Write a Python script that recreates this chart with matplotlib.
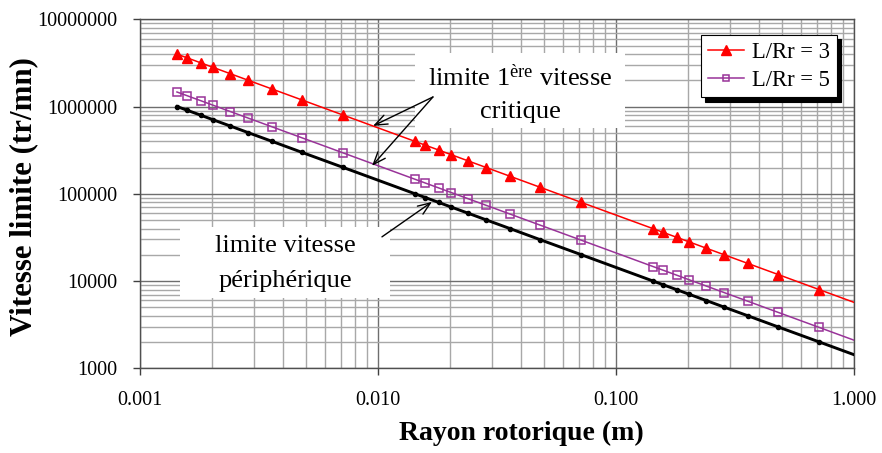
import matplotlib
matplotlib.use("Agg")
import matplotlib.pyplot as plt
from matplotlib.ticker import LogLocator, NullFormatter, FuncFormatter
from matplotlib.patches import Rectangle

plt.rcParams['font.family'] = ['Liberation Serif', 'DejaVu Serif']
plt.rcParams['mathtext.fontset'] = 'custom'
plt.rcParams['mathtext.rm'] = 'Liberation Serif'
plt.rcParams['mathtext.it'] = 'Liberation Serif:italic'
plt.rcParams['mathtext.bf'] = 'Liberation Serif:bold'

# ---- data ----
rayon = [0.00143, 0.00158, 0.0018, 0.00203, 0.0024, 0.00285, 0.00358, 0.0048, 0.00715,
         0.0143, 0.0158, 0.018, 0.0203, 0.024, 0.0285, 0.0358, 0.048, 0.0715,
         0.143, 0.158, 0.18, 0.203, 0.24, 0.285, 0.358, 0.48, 0.715]
v_lr3 = [3990000, 3610000, 3170000, 2810000, 2375000, 2000000, 1592000, 1188000, 797000,
         399000, 361000, 317000, 281000, 237500, 200000, 159200, 118800, 79700,
         39900, 36100, 31700, 28100, 23750, 20000, 15920, 11880, 7970]
v_lr5 = [1468000, 1329000, 1167000, 1034000, 875000, 737000, 587000, 437500, 293700,
         146800, 132900, 116700, 103400, 87500, 73700, 58700, 43750, 29370,
         14680, 13290, 11670, 10340, 8750, 7370, 5870, 4375, 2937]
v_periph = [1001000, 906000, 796000, 705000, 597000, 502000, 400000, 298000, 200300,
            100100, 90600, 79600, 70500, 59700, 50200, 40000, 29800, 20030,
            10010, 9060, 7960, 7050, 5970, 5020, 4000, 2980, 2003]
# trend extension to the right edge
trend_x = [0.715, 1.0]
trend_lr3 = [7970, 5700]
trend_lr5 = [2937, 2100]
trend_periph = [2003, 1432]

x_ticks = [0.001, 0.01, 0.1, 1.0]
y_ticks = [1000, 10000, 100000, 1000000, 10000000]

red = '#ff0000'
purple = '#993399'

fig = plt.figure(figsize=(8.82, 4.53), dpi=100)
W, H = 882, 453
ax = fig.add_axes([140 / W, 1 - 368.3 / H, 714 / W, 349 / H])
ax.set_xscale('log')
ax.set_yscale('log')
ax.set_xlim(0.001, 1.0)
ax.set_ylim(1000, 10000000)

ax.plot(rayon + trend_x[1:], v_lr3 + trend_lr3[1:], color=red, lw=1.1, zorder=3)
ax.plot(rayon, v_lr3, ls='none', marker='^', ms=7, color=red, zorder=4)
ax.plot(rayon + trend_x[1:], v_lr5 + trend_lr5[1:], color=purple, lw=1.1, zorder=3)
ax.plot(rayon, v_lr5, ls='none', marker='s', ms=5.5, mfc='none', mec=purple, mew=1.1, zorder=4)
ax.plot(rayon + trend_x[1:], v_periph + trend_periph[1:], color='black', lw=2.1, zorder=3)
ax.plot(rayon, v_periph, ls='none', marker='o', ms=3, color='black', zorder=4)

# legend proxies
h3, = ax.plot([], [], color=red, lw=1.1, marker='^', ms=6.5)
h5, = ax.plot([], [], color=purple, lw=1.1, marker='s', ms=5, mfc='none', mec=purple, mew=1.1)
leg = ax.legend([h3, h5], ['L/Rr = 3', 'L/Rr = 5'], loc='upper right',
                bbox_to_anchor=(0.976, 0.955), borderaxespad=0, fontsize=16.3,
                frameon=True, fancybox=False, edgecolor='black', framealpha=1,
                shadow={'color': 'black', 'alpha': 1, 'ox': 3, 'oy': -3},
                handlelength=1.6, handletextpad=0.35, borderpad=0.3, labelspacing=0.3)
leg.get_frame().set_linewidth(0.8)
leg.set_zorder(10)

# ticks and grid
ax.xaxis.set_minor_locator(LogLocator(base=10, subs=range(2, 10), numticks=20))
ax.yaxis.set_minor_locator(LogLocator(base=10, subs=range(2, 10), numticks=20))
ax.set_xticks(x_ticks)
ax.set_yticks(y_ticks)
ax.xaxis.set_major_formatter(FuncFormatter(lambda v, p: f'{v:.3f}'))
ax.yaxis.set_major_formatter(FuncFormatter(lambda v, p: f'{int(round(v))}'))
ax.xaxis.set_minor_formatter(NullFormatter())
ax.yaxis.set_minor_formatter(NullFormatter())
ax.tick_params(which='major', direction='out', length=5, width=1, color='#404040',
               labelsize=14.5, pad=11)
ax.tick_params(which='minor', length=0)
ax.grid(which='major', color='#6e6e6e', lw=1.0)
ax.grid(which='minor', color='#a8a8a8', lw=1.0)
ax.set_axisbelow(True)
for s in ax.spines.values():
    s.set_color('#505050')
    s.set_linewidth(1.0)

fig.text(521 / W, 1 - 433 / H, 'Rayon rotorique (m)', fontsize=20, fontweight='bold',
         ha='center', va='center')
fig.text(24 / W, 1 - 197 / H, 'Vitesse limite (tr/mn)', rotation=90, fontsize=22.2,
         fontweight='bold', ha='center', va='center')

# white text boxes (cover the grid)
for (x0, y0, x1, y1) in [(415, 53, 625, 128), (180, 227, 390, 298)]:
    ax.add_patch(Rectangle((x0 / W, 1 - y1 / H), (x1 - x0) / W, (y1 - y0) / H,
                           transform=fig.transFigure, facecolor='white',
                           edgecolor='none', zorder=2.5, clip_on=False))

ax.text(520 / W, 1 - 78 / H, 'limite 1$^{\\mathrm{ère}}$ vitesse', transform=fig.transFigure,
        fontsize=19, ha='center', va='center', zorder=5)
ax.text(520 / W, 1 - 112 / H, 'critique', transform=fig.transFigure,
        fontsize=19, ha='center', va='center', zorder=5)
ax.text(285 / W, 1 - 246 / H, 'limite vitesse', transform=fig.transFigure,
        fontsize=19, ha='center', va='center', zorder=5)
ax.text(285 / W, 1 - 281 / H, 'périphérique', transform=fig.transFigure,
        fontsize=19, ha='center', va='center', zorder=5)

arrow = dict(arrowstyle='->,head_length=0.9,head_width=0.35', color='black', lw=1.0,
             shrinkA=0, shrinkB=0)
ax.annotate('', xy=(0.00953, 600000), xytext=(0.01702, 1288000), arrowprops=arrow, zorder=6)
ax.annotate('', xy=(0.00944, 209000), xytext=(0.01702, 1288000), arrowprops=arrow, zorder=6)
ax.annotate('', xy=(0.01686, 80800), xytext=(0.01039, 32100), arrowprops=arrow, zorder=6)

fig.savefig('out.png', dpi=100)
